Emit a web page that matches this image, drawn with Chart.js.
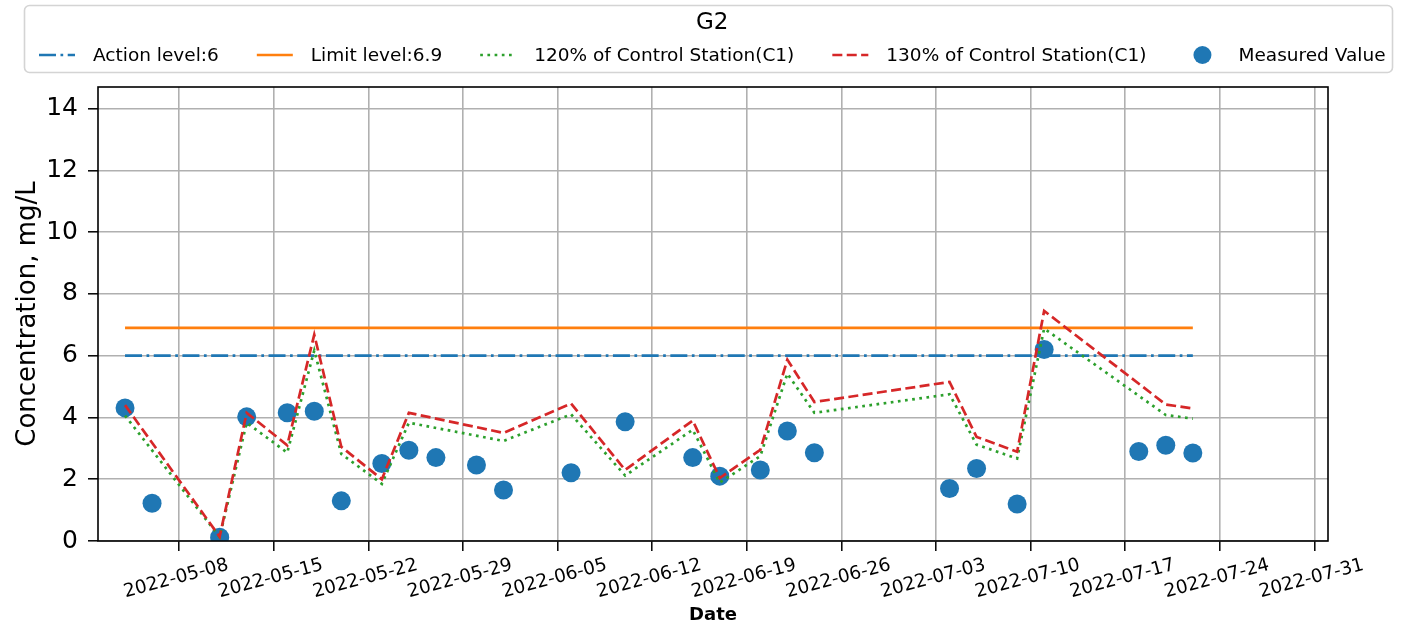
<!DOCTYPE html>
<html>
<head>
<meta charset="utf-8">
<title>G2</title>
<script src="https://cdn.jsdelivr.net/npm/chart.js@4.4.0/dist/chart.umd.min.js"></script>
<style>
  html, body { margin: 0; padding: 0; background: #fff; }
  canvas { display: block; }
</style>
</head>
<body>
<canvas id="chartG2" width="1405" height="629"></canvas>
<script>
// station + levels
const stationName = 'G2';
const actionLevel = 6;
const limitLevel = 6.9;
const levelDates = ['2022-05-04', '2022-07-22'];

// measured values at G2
const measuredDates = ['2022-05-04', '2022-05-06', '2022-05-11', '2022-05-13', '2022-05-16', '2022-05-18',
  '2022-05-20', '2022-05-23', '2022-05-25', '2022-05-27', '2022-05-30', '2022-06-01', '2022-06-06',
  '2022-06-10', '2022-06-15', '2022-06-17', '2022-06-20', '2022-06-22', '2022-06-24', '2022-07-04',
  '2022-07-06', '2022-07-09', '2022-07-11', '2022-07-18', '2022-07-20', '2022-07-22'];
const measuredValues = [4.31, 1.22, 0.12, 4.02, 4.15, 4.2, 1.3, 2.51, 2.94, 2.7, 2.46, 1.65, 2.21,
  3.86, 2.7, 2.1, 2.3, 3.56, 2.86, 1.7, 2.35, 1.2, 6.2, 2.9, 3.1, 2.85];

// control station C1 lines
const controlDates = ['2022-05-04', '2022-05-11', '2022-05-13', '2022-05-16', '2022-05-18', '2022-05-20',
  '2022-05-23', '2022-05-25', '2022-06-01', '2022-06-06', '2022-06-10', '2022-06-15', '2022-06-17',
  '2022-06-20', '2022-06-22', '2022-06-24', '2022-07-04', '2022-07-06', '2022-07-09', '2022-07-11',
  '2022-07-20', '2022-07-22'];
const control120 = [4.06, 0.13, 3.83, 2.86, 6.17, 2.82, 1.85, 3.83, 3.24, 4.1, 2.12, 3.6, 1.89,
  2.75, 5.42, 4.15, 4.75, 3.12, 2.67, 6.88, 4.08, 3.96];
const control130 = [4.4, 0.14, 4.15, 3.1, 6.68, 3.05, 2.0, 4.15, 3.5, 4.45, 2.3, 3.9, 2.04,
  2.95, 5.87, 4.5, 5.15, 3.37, 2.89, 7.45, 4.42, 4.29];

// axes
const xTickLabels = ['2022-05-08', '2022-05-15', '2022-05-22', '2022-05-29', '2022-06-05', '2022-06-12',
  '2022-06-19', '2022-06-26', '2022-07-03', '2022-07-10', '2022-07-17', '2022-07-24', '2022-07-31'];
const xRange = ['2022-05-02', '2022-08-01'];
const yTicks = [0, 2, 4, 6, 8, 10, 12, 14];
const yMax = 14.7;

Chart.defaults.font.family = '"DejaVu Sans", sans-serif';
Chart.defaults.color = '#000';

// days counted from 2022-05-08
function dayNum(s) {
  const p = s.split('-').map(Number);
  return (Date.UTC(p[0], p[1] - 1, p[2]) - Date.UTC(2022, 4, 8)) / 86400000;
}
function pts(dates, vals) {
  return dates.map((d, i) => ({ x: dayNum(d), y: vals[i] }));
}

// matplotlib-like framed legend with title
const legendBox = {
  id: 'legendBox',
  afterDraw(chart) {
    const ctx = chart.ctx;
    const sets = chart.data.datasets;
    const hl = 36, pad = 18, gap = 38, y = 55;
    ctx.save();
    ctx.font = '18.5px "DejaVu Sans"';
    let x = 39;
    const startX = x;
    const pos = sets.map(ds => {
      const w = ctx.measureText(ds.label).width;
      const p = { x: x, w: w };
      x += hl + pad + w + gap;
      return p;
    });
    const endX = x - gap;

    ctx.beginPath();
    ctx.roundRect(24.5, 5.5, endX + 7 - 24.5, 67, 5);
    ctx.fillStyle = 'rgba(255,255,255,0.8)';
    ctx.fill();
    ctx.strokeStyle = '#d4d4d4';
    ctx.lineWidth = 1.6;
    ctx.stroke();

    ctx.fillStyle = '#000';
    ctx.textAlign = 'center';
    ctx.textBaseline = 'middle';
    ctx.font = '23px "DejaVu Sans"';
    ctx.fillText(stationName, (startX + endX) / 2, 23);

    ctx.font = '18.5px "DejaVu Sans"';
    ctx.textAlign = 'left';
    sets.forEach((ds, i) => {
      const p = pos[i];
      if (ds.showLine) {
        ctx.beginPath();
        ctx.setLineDash(ds.borderDash || []);
        ctx.lineCap = 'butt';
        ctx.strokeStyle = ds.borderColor;
        ctx.lineWidth = ds.borderWidth;
        ctx.moveTo(p.x, y);
        ctx.lineTo(p.x + hl, y);
        ctx.stroke();
        ctx.setLineDash([]);
      } else {
        ctx.beginPath();
        ctx.fillStyle = ds.backgroundColor;
        ctx.arc(p.x + hl / 2, y, 9, 0, Math.PI * 2);
        ctx.fill();
      }
      ctx.fillStyle = '#000';
      ctx.fillText(ds.label, p.x + hl + pad, y + 1);
    });
    ctx.restore();
  }
};

// all four spines
const frame = {
  id: 'frame',
  afterDatasetsDraw(chart) {
    const a = chart.chartArea;
    const ctx = chart.ctx;
    ctx.save();
    ctx.strokeStyle = '#000';
    ctx.lineWidth = 1.6;
    ctx.strokeRect(a.left, a.top, a.right - a.left, a.bottom - a.top);
    ctx.restore();
  }
};

const ctxG2 = document.getElementById('chartG2');

const chartG2 = new Chart(ctxG2, {
  type: 'scatter',
  data: {
    datasets: [
      {
        label: 'Action level:' + actionLevel,
        data: pts(levelDates, levelDates.map(() => actionLevel)),
        showLine: true, pointRadius: 0,
        borderColor: '#1f77b4', borderWidth: 2.7, borderDash: [17, 4.5, 2.7, 4.5],
        order: 4
      },
      {
        label: 'Limit level:' + limitLevel,
        data: pts(levelDates, levelDates.map(() => limitLevel)),
        showLine: true, pointRadius: 0,
        borderColor: '#ff7f0e', borderWidth: 2.7,
        order: 3
      },
      {
        label: '120% of Control Station(C1)',
        data: pts(controlDates, control120),
        showLine: true, pointRadius: 0,
        borderColor: '#2ca02c', borderWidth: 2.7, borderDash: [2.7, 4.5],
        order: 2
      },
      {
        label: '130% of Control Station(C1)',
        data: pts(controlDates, control130),
        showLine: true, pointRadius: 0,
        borderColor: '#d62728', borderWidth: 2.7, borderDash: [10, 4.4],
        order: 1
      },
      {
        label: 'Measured Value',
        data: pts(measuredDates, measuredValues),
        showLine: false,
        pointRadius: 9.5, pointBorderWidth: 0,
        backgroundColor: '#1f77b4', pointBackgroundColor: '#1f77b4',
        clip: 0,
        order: 5
      }
    ]
  },
  options: {
    responsive: false,
    animation: false,
    events: [],
    layout: { padding: { top: 87, right: 77, bottom: 0, left: 0 } },
    plugins: {
      legend: { display: false },
      title: { display: false },
      tooltip: { enabled: false }
    },
    scales: {
      x: {
        type: 'linear',
        min: dayNum(xRange[0]),
        max: dayNum(xRange[1]),
        afterBuildTicks: axis => { axis.ticks = xTickLabels.map(d => ({ value: dayNum(d) })); },
        afterFit: s => { s.height = 88; },
        grid: { color: '#b0b0b0', lineWidth: 1.6, tickColor: '#000', tickLength: 10, tickWidth: 1.5 },
        border: { display: false },
        ticks: {
          autoSkip: false,
          minRotation: 15, maxRotation: 15,
          labelOffset: 49, padding: 3,
          font: { size: 18.5 },
          callback: (v, i) => xTickLabels[i]
        },
        title: { display: true, text: 'Date', font: { size: 18, weight: 'bold' }, padding: { top: 0, bottom: 3 } }
      },
      y: {
        min: 0,
        max: yMax,
        afterBuildTicks: axis => { axis.ticks = yTicks.map(v => ({ value: v })); },
        afterFit: s => { s.width = 98; },
        grid: { color: '#b0b0b0', lineWidth: 1.6, tickColor: '#000', tickLength: 10, tickWidth: 1.5 },
        border: { display: false },
        ticks: { padding: 10, font: { size: 25 } },
        title: { display: true, text: 'Concentration, mg/L', font: { size: 26 }, padding: { top: 13, bottom: 0 } }
      }
    }
  },
  plugins: [legendBox, frame]
});
</script>
</body>
</html>
